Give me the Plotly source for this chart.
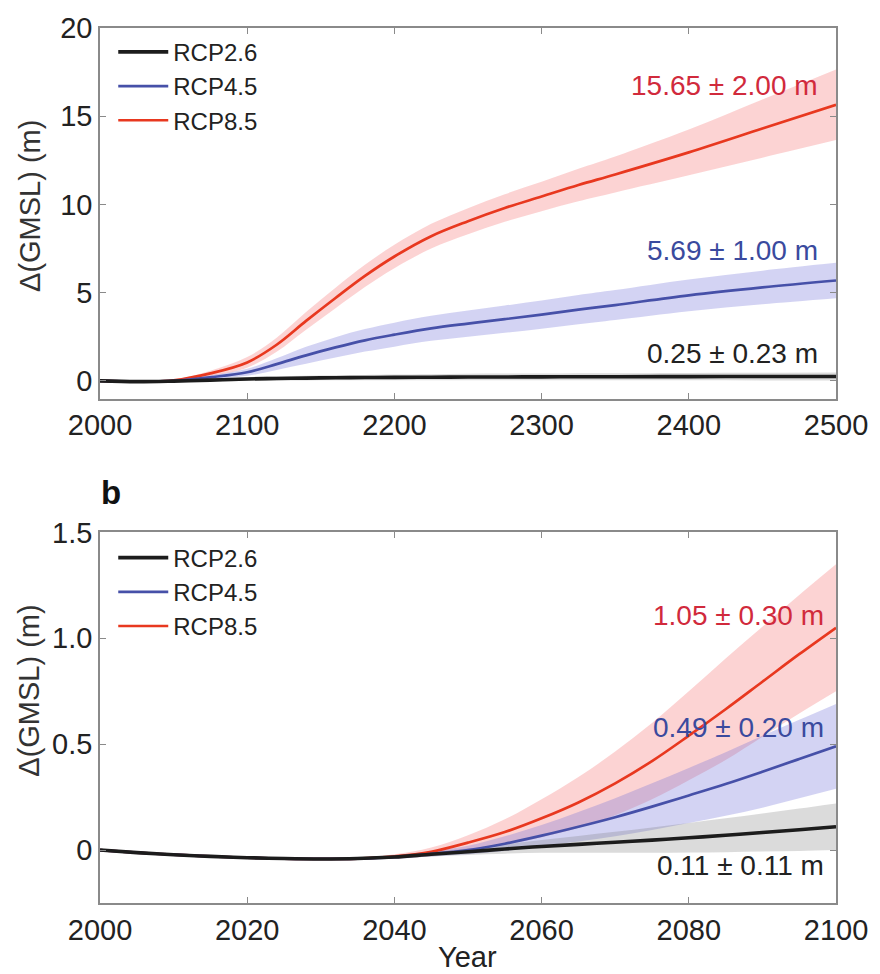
import numpy as np
import plotly.graph_objects as go
from plotly.subplots import make_subplots

# ---- Panel a: projections to 2500 ----
years_a = [2000, 2025, 2050, 2075, 2100, 2120, 2140, 2160, 2180, 2200,
           2225, 2250, 2275, 2300, 2325, 2350, 2400, 2450, 2500]
rcp85_a = [0.0, -0.04, 0.035, 0.43, 1.05, 2.05, 3.4, 4.7, 5.95, 7.05,
           8.2, 9.05, 9.8, 10.45, 11.1, 11.7, 12.95, 14.3, 15.65]
rcp85_a_err = [0.0, 0.0, 0.04, 0.15, 0.3, 0.4, 0.5, 0.58, 0.63, 0.66,
               0.7, 0.74, 0.78, 0.83, 0.92, 1.02, 1.3, 1.65, 2.0]
rcp45_a = [0.0, -0.04, 0.0, 0.205, 0.49, 0.95, 1.45, 1.9, 2.3, 2.62,
           2.98, 3.25, 3.5, 3.76, 4.04, 4.3, 4.85, 5.3, 5.69]
rcp45_a_err = [0.0, 0.0, 0.02, 0.11, 0.2, 0.33, 0.48, 0.58, 0.64, 0.68,
               0.71, 0.74, 0.77, 0.8, 0.83, 0.85, 0.9, 0.95, 1.0]
rcp26_a = [0.0, -0.04, -0.01, 0.045, 0.11, 0.14, 0.16, 0.18, 0.19, 0.2,
           0.21, 0.22, 0.225, 0.23, 0.235, 0.24, 0.245, 0.248, 0.25]
rcp26_a_err = [0.0, 0.0, 0.015, 0.06, 0.11, 0.12, 0.13, 0.14, 0.15, 0.16,
               0.17, 0.18, 0.19, 0.19, 0.2, 0.2, 0.21, 0.22, 0.23]

# ---- Panel b: projections to 2100 ----
years_b = list(range(2000, 2101, 5))
rcp85_b = [0.0, -0.012, -0.022, -0.03, -0.036, -0.04, -0.042, -0.04, -0.03,
           -0.008, 0.035, 0.085, 0.15, 0.225, 0.315, 0.42, 0.54, 0.665, 0.795,
           0.925, 1.05]
rcp85_b_err = [0, 0, 0, 0, 0, 0, 0, 0.004, 0.01, 0.02, 0.035, 0.06, 0.09,
               0.12, 0.15, 0.18, 0.21, 0.24, 0.26, 0.28, 0.3]
rcp45_b = [0.0, -0.012, -0.022, -0.03, -0.036, -0.04, -0.042, -0.04, -0.033,
           -0.018, 0.0, 0.03, 0.068, 0.11, 0.155, 0.205, 0.258, 0.312, 0.37,
           0.43, 0.49]
rcp45_b_err = [0, 0, 0, 0, 0, 0, 0, 0.003, 0.008, 0.012, 0.02, 0.035, 0.05,
               0.07, 0.09, 0.11, 0.13, 0.15, 0.17, 0.185, 0.2]
rcp26_b = [0.0, -0.012, -0.022, -0.03, -0.036, -0.04, -0.042, -0.04, -0.033,
           -0.02, -0.008, 0.005, 0.017, 0.027, 0.037, 0.047, 0.058, 0.07,
           0.083, 0.096, 0.11]
rcp26_b_err = [0, 0, 0, 0, 0, 0, 0, 0.003, 0.006, 0.01, 0.015, 0.022, 0.03,
               0.04, 0.05, 0.06, 0.07, 0.08, 0.09, 0.1, 0.11]

scenarios = ["RCP2.6", "RCP4.5", "RCP8.5"]
labels_a = ["0.25 ± 0.23 m", "5.69 ± 1.00 m", "15.65 ± 2.00 m"]
labels_b = ["0.11 ± 0.11 m", "0.49 ± 0.20 m", "1.05 ± 0.30 m"]

line_colors = {"RCP2.6": "#1c1c1c", "RCP4.5": "#4650a8", "RCP8.5": "#e8381f"}
band_colors = {"RCP2.6": "rgba(110,110,110,0.25)",
               "RCP4.5": "rgba(110,110,215,0.30)",
               "RCP8.5": "rgba(245,110,110,0.30)"}
text_colors = {"RCP2.6": "#222222", "RCP4.5": "#3a4a9e", "RCP8.5": "#d12a3c"}
line_widths = {"RCP2.6": 3.6, "RCP4.5": 2.7, "RCP8.5": 2.7}

FONT = "Liberation Sans, Arial, sans-serif"

fig = make_subplots(rows=2, cols=1, vertical_spacing=0.1530)

panel_data = {
    1: (years_a, {"RCP2.6": (rcp26_a, rcp26_a_err),
                  "RCP4.5": (rcp45_a, rcp45_a_err),
                  "RCP8.5": (rcp85_a, rcp85_a_err)}),
    2: (years_b, {"RCP2.6": (rcp26_b, rcp26_b_err),
                  "RCP4.5": (rcp45_b, rcp45_b_err),
                  "RCP8.5": (rcp85_b, rcp85_b_err)}),
}

smooth = dict(shape="spline", smoothing=1.0)
draw_order = ["RCP8.5", "RCP4.5", "RCP2.6"]
for row, (yrs, series) in panel_data.items():
    x = np.array(yrs, dtype=float)
    # uncertainty bands: lower edge, then upper edge filled down to it
    for name in draw_order:
        mid, err = series[name]
        mid = np.array(mid); err = np.array(err)
        fig.add_trace(go.Scatter(
            x=x, y=mid - err, mode="lines", line=dict(width=0, **smooth),
            hoverinfo="skip", showlegend=False), row=row, col=1)
        fig.add_trace(go.Scatter(
            x=x, y=mid + err, mode="lines", line=dict(width=0, **smooth),
            fill="tonexty", fillcolor=band_colors[name],
            hoverinfo="skip", showlegend=False), row=row, col=1)
    # central estimates
    for name in draw_order:
        mid, _ = series[name]
        fig.add_trace(go.Scatter(
            x=x, y=mid, mode="lines", name=name,
            line=dict(color=line_colors[name], width=line_widths[name],
                      **smooth),
            legend="legend" if row == 1 else "legend2",
            legendrank=scenarios.index(name) + 1,
            showlegend=True), row=row, col=1)

axis_common = dict(
    showline=True, linecolor="#8a8a8a", linewidth=1.5, mirror="ticks",
    ticks="inside", ticklen=6, tickcolor="#8a8a8a", tickwidth=1.2,
    showgrid=False, zeroline=False,
    tickfont=dict(family=FONT, size=29, color="#222222"),
)

fig.update_xaxes(**axis_common)
fig.update_yaxes(**axis_common)
fig.update_xaxes(range=[2000, 2500], tickvals=list(range(2000, 2501, 100)),
                 row=1, col=1)
fig.update_xaxes(range=[2000, 2100], tickvals=list(range(2000, 2101, 20)),
                 row=2, col=1)
fig.update_yaxes(range=[-1, 20], tickvals=[0, 5, 10, 15, 20], row=1, col=1)
fig.update_yaxes(range=[-0.25, 1.5], tickvals=[0, 0.5, 1.0, 1.5],
                 ticktext=["0", "0.5", "1.0", "1.5"], row=2, col=1)

fig.update_layout(
    xaxis=dict(domain=[0, 1]), yaxis=dict(domain=[0.5765, 1.0]),
    xaxis2=dict(domain=[0, 1]), yaxis2=dict(domain=[0.0, 0.4235]),
)

annotations = []
# value labels at the end of each projection
pos_a = {"RCP8.5": 0.844, "RCP4.5": 0.399, "RCP2.6": 0.121}
pos_b = {"RCP8.5": 0.776, "RCP4.5": 0.474, "RCP2.6": 0.102}
for i, name in enumerate(scenarios):
    annotations.append(dict(
        text=labels_a[i], xref="x domain", yref="y domain",
        x=0.978, y=pos_a[name], xanchor="right", yanchor="middle",
        showarrow=False,
        font=dict(family=FONT, size=28, color=text_colors[name])))
    annotations.append(dict(
        text=labels_b[i], xref="x2 domain", yref="y2 domain",
        x=0.986, y=pos_b[name], xanchor="right", yanchor="middle",
        showarrow=False,
        font=dict(family=FONT, size=28, color=text_colors[name])))

# axis titles
for ypos in (0.797, 0.243):
    annotations.append(dict(
        text="Δ(GMSL) (m)", xref="paper", yref="paper",
        x=-0.096, y=ypos, textangle=-90, showarrow=False,
        xanchor="center", yanchor="middle",
        font=dict(family=FONT, size=29, color="#333333")))
annotations.append(dict(
    text="Year", xref="paper", yref="paper", x=0.499, y=-0.062,
    showarrow=False, xanchor="center", yanchor="middle",
    font=dict(family=FONT, size=29, color="#222222")))
# panel letter
annotations.append(dict(
    text="<b>b</b>", xref="paper", yref="paper", x=-0.002, y=0.469,
    showarrow=False, xanchor="left", yanchor="middle",
    font=dict(family=FONT, size=33, color="#111111")))

legend_common = dict(
    bgcolor="rgba(0,0,0,0)", borderwidth=0, itemwidth=50,
    font=dict(family=FONT, size=24, color="#222222"),
    xanchor="left", yanchor="top", tracegroupgap=0,
    traceorder="normal",
    itemclick=False, itemdoubleclick=False,
)

fig.update_layout(
    width=880, height=974,
    margin=dict(l=100, r=33, t=27, b=71),
    paper_bgcolor="white", plot_bgcolor="white",
    annotations=annotations,
    legend=dict(x=0.018, y=0.998, **legend_common),
    legend2=dict(x=0.018, y=0.42, **legend_common),
    font=dict(family=FONT),
)

fig.write_html("out.html")
